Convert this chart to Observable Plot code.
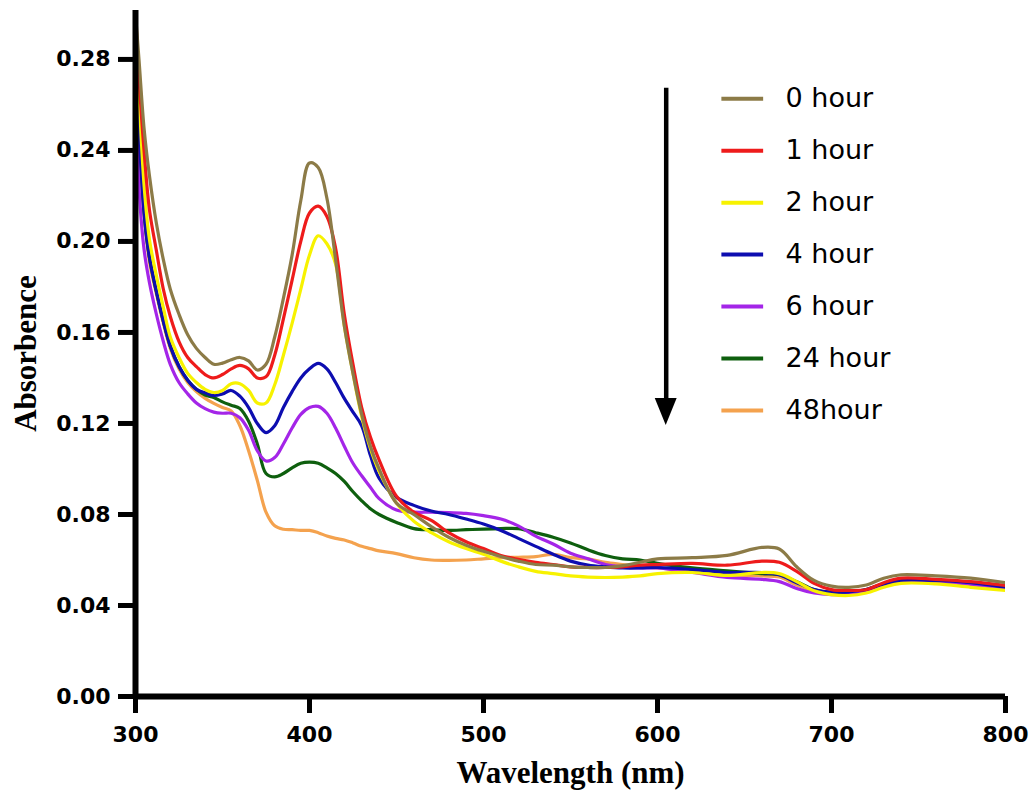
<!DOCTYPE html>
<html>
<head>
<meta charset="utf-8">
<script src="https://cdn.jsdelivr.net/npm/d3@7"></script>
<script src="https://cdn.jsdelivr.net/npm/@observablehq/plot@0.6"></script>
<style>
  html, body { margin: 0; padding: 0; background: white; }
</style>
</head>
<body>
<div id="chart"></div>
<script>
const wavelengths = [300, 302, 305, 308, 312, 316, 320, 325, 330, 335,
  340, 345, 350, 355, 360, 365, 370, 375, 380, 385,
  390, 395, 400, 405, 410, 415, 420, 425, 430, 435,
  440, 450, 460, 470, 480, 490, 500, 510, 520, 530,
  540, 550, 560, 570, 580, 590, 600, 620, 640, 660,
  670, 680, 690, 700, 710, 720, 730, 740, 760, 780, 800];

const seriesNames = ["0 hour", "1 hour", "2 hour", "4 hour", "6 hour", "24 hour", "48hour"];
const seriesColors = ["#8c7b47", "#ee1b1b", "#f7f200", "#0d0db0", "#a425e8", "#0e5f0e", "#f4a24e"];

const abs0h = [.300, .280, .249, .229, .208, .192, .179, .168, .159, .153,
  .149, .146, .1465, .148, .149, .1475, .1435, .146, .158, .175,
  .194, .218, .2345, .2325, .219, .192, .163, .142, .124, .110,
  .100, .085, .080, .0747, .070, .0665, .0638, .0615, .0595, .058,
  .0577, .057, .0567, .0567, .0575, .059, .0605, .061, .062, .0655,
  .0648, .057, .051, .0485, .048, .049, .052, .0535, .053, .052, .050];
const abs1h = [.300, .272, .239, .214, .196, .179, .167, .156, .149, .145,
  .1415, .140, .1415, .144, .1455, .144, .140, .1405, .150, .166,
  .183, .200, .2125, .2155, .211, .197, .168, .146, .127, .114,
  .104, .088, .081, .0774, .072, .068, .065, .062, .0603, .059,
  .058, .057, .0567, .0567, .057, .0577, .058, .0585, .0577, .0595,
  .059, .055, .0497, .047, .0466, .047, .050, .052, .0515, .0505, .0488];
const abs2h = [.300, .265, .224, .201, .185, .171, .158, .149, .142, .138,
  .135, .1336, .1345, .1375, .1375, .1345, .129, .129, .137, .150,
  .164, .179, .194, .2025, .199, .190, .163, .142, .123, .109,
  .099, .085, .077, .072, .068, .065, .0625, .0595, .057, .055,
  .054, .053, .0525, .0523, .0525, .053, .054, .0545, .0532, .0545,
  .054, .0505, .0465, .0448, .0444, .0455, .048, .0497, .0495, .048, .0466];
const abs4h = [.290, .250, .212, .193, .178, .165, .154, .145, .139, .135,
  .1335, .1323, .133, .1345, .132, .127, .120, .116, .119, .127,
  .134, .140, .144, .1464, .144, .138, .131, .125, .119, .106,
  .096, .0875, .084, .0815, .080, .078, .0758, .073, .0695, .066,
  .0625, .0595, .0578, .057, .0565, .0565, .0567, .0558, .0545, .0545,
  .0535, .050, .047, .0458, .046, .047, .0495, .051, .051, .050, .048];
const abs6h = [.270, .224, .196, .182, .168, .156, .146, .138, .133, .129,
  .1265, .125, .1245, .1245, .1225, .117, .108, .1035, .105, .111,
  .118, .124, .127, .1275, .1245, .118, .110, .1025, .097, .092,
  .087, .082, .081, .081, .0808, .0805, .0795, .078, .075, .0705,
  .067, .063, .0605, .058, .057, .0565, .0565, .0545, .0523, .0515,
  .0505, .0475, .0455, .0448, .045, .0462, .049, .0505, .050, .049, .047];
const abs24h = [.290, .250, .212, .193, .178, .165, .154, .145, .139, .135,
  .1325, .1314, .1295, .128, .1266, .121, .111, .098, .0965, .098,
  .1005, .1025, .103, .1025, .1005, .098, .0945, .090, .086, .0825,
  .080, .0765, .0738, .0733, .073, .0733, .0736, .0738, .0738, .072,
  .070, .0675, .0645, .062, .0605, .060, .0585, .0565, .0552, .054,
  .0535, .0505, .047, .0458, .046, .047, .0495, .051, .0505, .0495, .048];
const abs48h = [.290, .250, .212, .191, .177, .164, .153, .144, .138, .134,
  .131, .1288, .127, .1255, .119, .108, .095, .081, .075, .0735,
  .0733, .073, .073, .072, .0705, .0695, .0688, .0675, .066, .065,
  .064, .0628, .061, .060, .0598, .060, .0605, .061, .0612, .0615,
  .0625, .061, .0605, .059, .058, .057, .0565, .055, .0535, .053,
  .0525, .049, .0465, .0455, .0455, .0465, .049, .0505, .050, .049, .0475];

const xTicks = [300, 400, 500, 600, 700, 800];
const yTicks = [0, 0.04, 0.08, 0.12, 0.16, 0.20, 0.24, 0.28];

const allSeries = [abs0h, abs1h, abs2h, abs4h, abs6h, abs24h, abs48h];

// draw 48hour first, 0 hour last (on top)
const rows = [];
for (let s = allSeries.length - 1; s >= 0; s--) {
  allSeries[s].forEach((a, i) => rows.push({series: seriesNames[s], wl: wavelengths[i], a}));
}

// legend / annotation layout (data units)
const legendTop = 0.2627, legendStep = 0.02283;
const legendRows = seriesNames.map((name, i) => ({name, y: legendTop - i * legendStep}));
const arrowX = 605, arrowTop = 0.2673, arrowBase = 0.131, arrowTip = 0.1191, arrowHalf = 6.3;
const arrowHead = [
  {x: arrowX - arrowHalf, y: arrowBase},
  {x: arrowX, y: arrowTip},
  {x: arrowX + arrowHalf, y: arrowBase}
];

const serif = "Liberation Serif, Times New Roman, serif";

const chart = Plot.plot({
  width: 1035,
  height: 808,
  marginTop: 10,
  marginLeft: 135,
  marginRight: 30,
  marginBottom: 112,
  style: {fontFamily: "DejaVu Sans, sans-serif", background: "white", color: "black"},
  x: {domain: [300, 800]},
  y: {domain: [0, 0.3015]},
  color: {domain: seriesNames, range: seriesColors},
  marks: [
    Plot.line(rows, {x: "wl", y: "a", z: "series", stroke: "series", strokeWidth: 3.2, curve: "catmull-rom", clip: true}),
    Plot.axisX({ticks: xTicks, tickSize: 17, tickPadding: 13, strokeWidth: 5, fontSize: 22, fontWeight: "bold", label: null, tickFormat: d3.format("d")}),
    Plot.axisY({ticks: yTicks, tickSize: 17, tickPadding: 8, strokeWidth: 5, fontSize: 22, fontWeight: "bold", label: null, tickFormat: d3.format(".2f")}),
    Plot.ruleY([0], {strokeWidth: 6, stroke: "black"}),
    Plot.ruleX([300], {strokeWidth: 6, stroke: "black"}),
    // legend
    Plot.ruleY(legendRows, {x1: 637, x2: 661, y: "y", stroke: "name", strokeWidth: 4}),
    Plot.text(legendRows, {x: 673.6, y: "y", text: "name", textAnchor: "start", fontSize: 27, fill: "black"}),
    // arrow
    Plot.ruleX([arrowX], {y1: arrowTop, y2: arrowBase, strokeWidth: 4.5, stroke: "black"}),
    Plot.areaY(arrowHead, {x: "x", y1: arrowBase, y2: "y", fill: "black", curve: "linear"}),
    // axis titles
    Plot.text(["Wavelength (nm)"], {text: d => d, frameAnchor: "bottom", textAnchor: "middle", dy: 86, fontFamily: serif, fontWeight: "bold", fontSize: 31, fill: "black"}),
    Plot.text(["Absorbence"], {text: d => d, frameAnchor: "left", textAnchor: "middle", rotate: -90, dx: -109, dy: 0, fontFamily: serif, fontWeight: "bold", fontSize: 31, fill: "black"})
  ]
});
document.getElementById("chart").appendChild(chart);
</script>
</body>
</html>
